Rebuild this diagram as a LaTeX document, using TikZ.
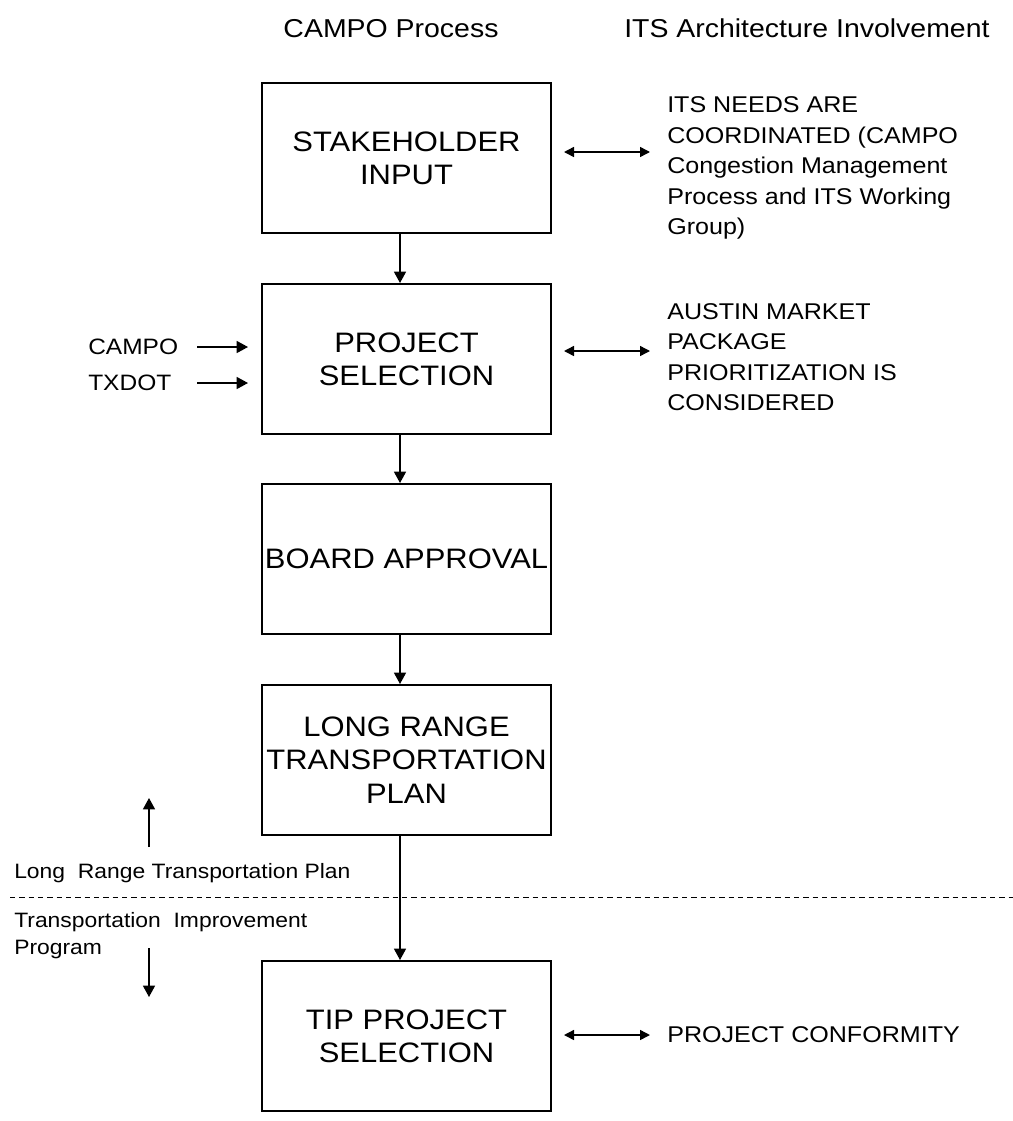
\documentclass[tikz,border=0pt]{standalone}
\usepackage{fontspec}
\setmainfont{Liberation Sans}[FakeStretch=1.1]
\usetikzlibrary{arrows.meta,calc}

\begin{document}
\begin{tikzpicture}[x=0.75pt,y=0.75pt,yscale=-1,xscale=1,
  procbox/.style={draw, line width=1.5pt, minimum width=216.75pt, minimum height=112.5pt, inner sep=2pt, align=center, font=\fontsize{21.1}{25}\selectfont},
  sidetext/.style={inner sep=0pt, align=left, anchor=west, font=\fontsize{17.1}{22.9}\selectfont},
  lefttext/.style={inner sep=0pt, anchor=west, font=\fontsize{16.7}{20}\selectfont},
  lowtext/.style={inner sep=0pt, align=left, font=\fontsize{15.6}{20.25}\selectfont},
  titletext/.style={inner sep=0pt, font=\fontsize{19.4}{22}\selectfont},
  flow/.style={line width=1.1pt, -{Triangle[length=8.5pt,width=9pt]}},
  both/.style={line width=1.1pt, {Triangle[length=7.5pt,width=7.5pt]}-{Triangle[length=7.5pt,width=7.5pt]}},
  divider/.style={line width=0.8pt, dash pattern={on 4pt off 3pt}}]
        \path[use as bounding box] (0,0) rectangle (1013,1121);

        % Text Node
        \node[titletext, anchor=base] (campotitle) at (391,37) {CAMPO Process};
        % Text Node
        \node[titletext, anchor=base west] (itstitle) at (624,37) {ITS Architecture Involvement};

        %Shape: Rectangle
        \node[procbox] (stake) at (406.5,158) {STAKEHOLDER\\INPUT};
        %Shape: Rectangle
        \node[procbox] (projsel) at (406.5,359) {PROJECT\\SELECTION};
        %Shape: Rectangle
        \node[procbox] (board) at (406.5,559) {BOARD APPROVAL};
        %Shape: Rectangle
        \node[procbox] (lrtp) at (406.5,760) {LONG RANGE\\TRANSPORTATION\\PLAN};
        %Shape: Rectangle
        \node[procbox] (tipsel) at (406.5,1036) {TIP PROJECT\\SELECTION};

        %Straight Lines
        \coordinate (ax) at (400,0);
        \draw[flow] (stake.south -| ax) -- (projsel.north -| ax);
        \draw[flow] (projsel.south -| ax) -- (board.north -| ax);
        \draw[flow] (board.south -| ax) -- (lrtp.north -| ax);
        \draw[flow] (lrtp.south -| ax) -- (tipsel.north -| ax);

        % Text Node
        \node[sidetext] (needs) at (667,168) {ITS NEEDS ARE\\COORDINATED (CAMPO\\Congestion Management\\Process and ITS Working\\Group)};
        % Text Node
        \node[sidetext] (austin) at (667,357) {AUSTIN MARKET\\PACKAGE\\PRIORITIZATION IS\\CONSIDERED};
        % Text Node
        \node[sidetext] (conform) at (667,1035) {PROJECT CONFORMITY};

        \draw[both] ($(stake.east)+(12,-6)$) -- ($(stake.east -| needs.west)+(-17,-6)$);
        \draw[both] ($(projsel.east)+(12,-8)$) -- ($(projsel.east -| austin.west)+(-17,-8)$);
        \draw[both] ($(tipsel.east)+(12,-1)$) -- ($(tipsel.east -| conform.west)+(-17,-1)$);

        % Text Node
        \node[lefttext] (campo) at (88,347) {CAMPO};
        % Text Node
        \node[lefttext] (txdot) at (88,383) {TXDOT};
        \draw[flow] ($(campo.east -| projsel.west)+(-64,0)$) -- ($(campo.east -| projsel.west)+(-13,0)$);
        \draw[flow] ($(txdot.east -| projsel.west)+(-64,0)$) -- ($(txdot.east -| projsel.west)+(-13,0)$);

        %Straight Lines
        \draw[divider] (10,897.7) -- (1013,897.7);
        % Text Node
        \node[lowtext, anchor=base west] (lrtplabel) at (14,878) {Long\ \ Range Transportation Plan};
        % Text Node
        \node[lowtext, anchor=north west] (tiplabel) at (14,912) {Transportation\ \ Improvement\\Program};
        \coordinate (upfoot) at (149,847);
        \coordinate (uptip) at (149,798);
        \coordinate (downfoot) at (149,948);
        \coordinate (downtip) at (149,997);
        \draw[flow] (upfoot) -- (uptip);
        \draw[flow] (downfoot) -- (downtip);

\end{tikzpicture}
\end{document}
